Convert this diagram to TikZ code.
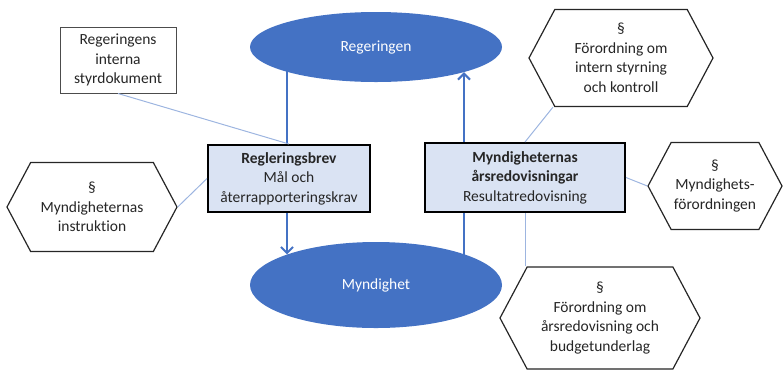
\documentclass[tikz,border=0pt]{standalone}
\usepackage{fontspec}
\setmainfont{Carlito}[Ligatures=NoCommon]
\usetikzlibrary{shapes.geometric,shapes.symbols,arrows.meta,backgrounds,calc}

\definecolor{ellblue}{HTML}{4472C4}
\definecolor{boxblue}{HTML}{DAE3F3}
\definecolor{linkblue}{HTML}{9DB5E0}
\definecolor{txtgray}{HTML}{262626}

\begin{document}
\begin{tikzpicture}
            [x=1pt,y=-1pt,
             every node/.style={font=\fontsize{15.5}{19.5}\selectfont,align=center,text=txtgray},
             actor/.style={ellipse,fill=ellblue,text=white,minimum width=252pt},
             docbox/.style={rectangle,draw=black,line width=2pt,fill=boxblue,inner sep=2pt},
             plainbox/.style={rectangle,draw=black!70,line width=1pt,fill=white},
             lawbox/.style={signal,signal to=east and west,signal pointer angle=124,draw=black!85,line width=1.2pt,fill=white,inner sep=0pt},
             flow/.style={draw=ellblue,line width=2.5pt,-{Straight Barb[length=6pt,width=12pt,line width=2pt]}},
             link/.style={draw=linkblue,line width=1pt}]
            \useasboundingbox (0,0) rectangle (783,373);

            \node[actor,minimum height=70pt] (reg) at (376,47) {Regeringen};
            \node[actor,minimum height=86pt] (myn) at (376,285) {Myndighet};
            \node[docbox,minimum width=162pt,minimum height=67pt] (brev) at (289,178.5) {\textbf{Regleringsbrev}\\Mål och\\återrapporteringskrav};
            \node[docbox,minimum width=200pt,minimum height=69pt] (arsbox) at (525,177.5) {\textbf{Myndigheternas}\\\textbf{årsredovisningar}\\Resultatredovisning};
            \node[plainbox,minimum width=116pt,minimum height=66pt] (styr) at (118,60) {Regeringens\\interna\\styrdokument};
            \node[lawbox,minimum width=170pt,minimum height=89pt] (instr) at (92,207) {§\\Myndigheternas\\instruktion};
            \node[lawbox,minimum width=184pt,minimum height=97pt] (intern) at (621,58) {§\\Förordning om\\intern styrning\\och kontroll};
            \node[lawbox,minimum width=134pt,minimum height=87pt] (myndf) at (715,186) {§\\Myndighets-\\förordningen};
            \node[lawbox,minimum width=200pt,minimum height=102pt] (arsred) at (600,318) {§\\Förordning om\\årsredovisning och\\budgetunderlag};

            \begin{scope}[on background layer]
            \path [flow] (myn.161 |- reg.center) edge (myn.161);
            \path [flow] (reg.-16 |- myn.center) edge (reg.-16);
            \end{scope}

            \path [link] (styr.south) edge (brev.north);
            \path [link] (instr.east) edge (brev.west);
            \path [link] ($(intern.south)+(-68,0)$) edge (arsbox.north);
            \path [link] (arsbox.east) edge (myndf.west);
            \path [link] (arsbox.south) edge (arsbox.south |- arsred.north);
        \end{tikzpicture}
\end{document}
